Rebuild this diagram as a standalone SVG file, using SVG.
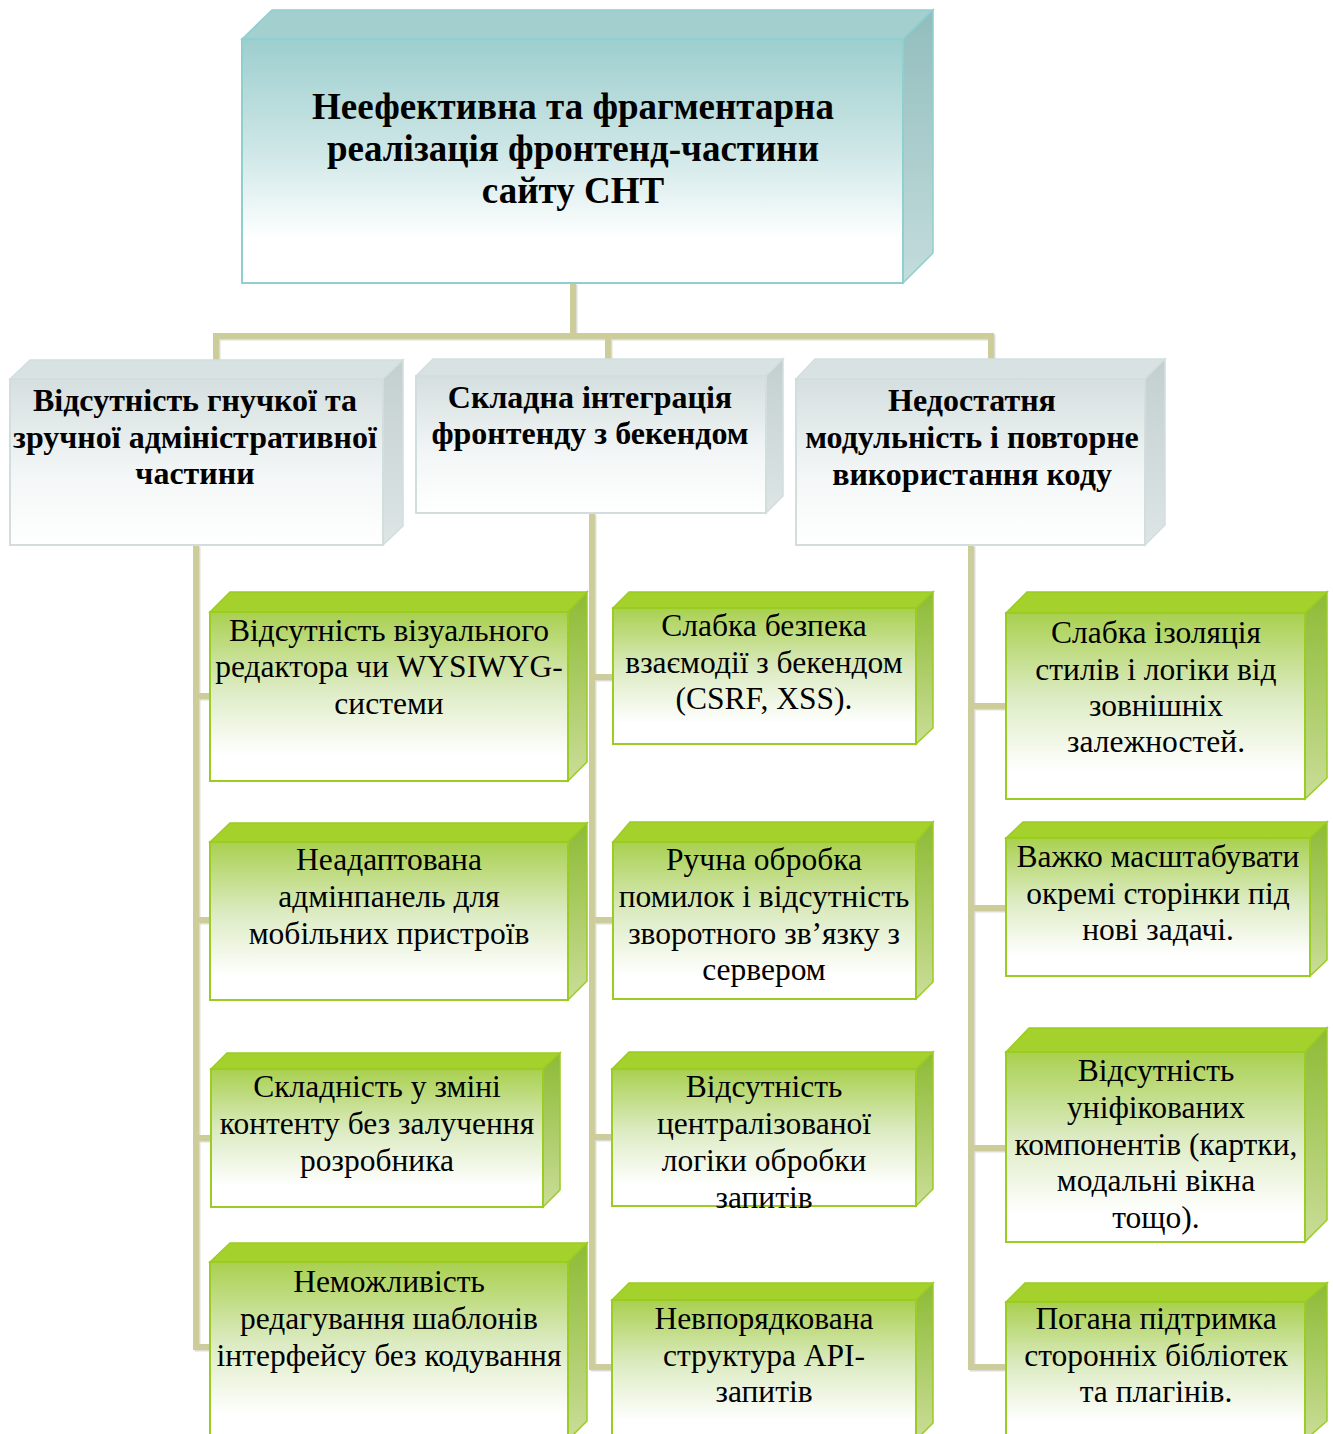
<svg xmlns="http://www.w3.org/2000/svg" width="1333" height="1434" viewBox="0 0 1333 1434">
  <defs>
    <linearGradient id="tealFront" x1="0" y1="0" x2="0" y2="1">
      <stop offset="0" stop-color="#9dcece"/>
      <stop offset="0.45" stop-color="#cde6e6"/>
      <stop offset="0.82" stop-color="#ffffff"/>
    </linearGradient>
    <linearGradient id="tealSide" x1="0" y1="0" x2="0" y2="1">
      <stop offset="0" stop-color="#92bdbd"/>
      <stop offset="1" stop-color="#c4dcdc"/>
    </linearGradient>
    <linearGradient id="grayFront" x1="0" y1="0" x2="0" y2="1">
      <stop offset="0" stop-color="#d5dfdf"/>
      <stop offset="0.6" stop-color="#f4f7f7"/>
      <stop offset="1" stop-color="#ffffff"/>
    </linearGradient>
    <linearGradient id="graySide" x1="0" y1="0" x2="0" y2="1">
      <stop offset="0" stop-color="#c3cfcf"/>
      <stop offset="1" stop-color="#dde5e5"/>
    </linearGradient>
    <linearGradient id="greenFront" x1="0" y1="0" x2="0" y2="1">
      <stop offset="0" stop-color="#a9d04f"/>
      <stop offset="0.45" stop-color="#dcebc2"/>
      <stop offset="0.85" stop-color="#ffffff"/>
    </linearGradient>
    <linearGradient id="greenSide" x1="0" y1="0" x2="0" y2="1">
      <stop offset="0" stop-color="#8dbb35"/>
      <stop offset="1" stop-color="#cadd98"/>
    </linearGradient>
  </defs>
  <style>
    .link { fill: none; stroke: #cdcd9b; stroke-width: 6; stroke-linejoin: miter; }
    .link-shadow { fill: none; stroke: #9a9a86; stroke-width: 6; opacity: 0.35; }
    .teal .front { fill: url(#tealFront); stroke: #8fcfcf; stroke-width: 2; }
    .teal .top { fill: #a3cfcf; stroke: #8fcfcf; stroke-width: 1.5; }
    .teal .side { fill: url(#tealSide); stroke: #8fcfcf; stroke-width: 1.5; }
    .gray .front { fill: url(#grayFront); stroke: #d2dede; stroke-width: 2; }
    .gray .top { fill: #d8e2e2; stroke: #d2dede; stroke-width: 1.5; }
    .gray .side { fill: url(#graySide); stroke: #d2dede; stroke-width: 1.5; }
    .green .front { fill: url(#greenFront); stroke: #9bcc22; stroke-width: 2; }
    .green .top { fill: #a5d12c; stroke: #9bcc22; stroke-width: 1.5; }
    .green .side { fill: url(#greenSide); stroke: #9bcc22; stroke-width: 1.5; }
    text { font-family: "Liberation Serif", "Times New Roman", serif; fill: #000; text-anchor: middle; }
    .t0 { font-size: 37px; font-weight: bold; }
    .t1 { font-size: 32px; font-weight: bold; }
    .t2 { font-size: 31.5px; }
  </style>

  <!-- connectors -->
  <g id="connectors">
    <g transform="translate(1.5,1.5)">
      <path class="link-shadow" d="M573 283 V336 M216 360 V336 H991 V360 M608 336 V360"/>
      <path class="link-shadow" d="M196 545 V1347 H210 M196 696 H210 M196 920 H210 M196 1138 H210"/>
      <path class="link-shadow" d="M592 513 V1367 H612 M592 677 H612 M592 920 H612 M592 1137 H612"/>
      <path class="link-shadow" d="M971 545 V1367 H1006 M971 706 H1006 M971 908 H1006 M971 1148 H1006"/>
    </g>
    <path class="link" d="M573 283 V336 M216 360 V336 H991 V360 M608 336 V360"/>
    <path class="link" d="M196 545 V1347 H210 M196 696 H210 M196 920 H210 M196 1138 H210"/>
    <path class="link" d="M592 513 V1367 H612 M592 677 H612 M592 920 H612 M592 1137 H612"/>
    <path class="link" d="M971 545 V1367 H1006 M971 706 H1006 M971 908 H1006 M971 1148 H1006"/>
  </g>

  <!-- root problem -->
  <g id="root" class="teal">
    <polygon class="top" points="242,39 272,10 933,10 903,39"/>
    <polygon class="side" points="903,39 933,10 933,253 903,283"/>
    <rect class="front" x="242" y="39" width="661" height="244"/>
    <text class="t0" x="573" y="119">Неефективна та фрагментарна</text>
    <text class="t0" x="573" y="161">реалізація фронтенд-частини</text>
    <text class="t0" x="573" y="203">сайту СНТ</text>
  </g>

  <!-- second level -->
  <g id="admin" class="gray">
    <polygon class="top" points="10,379 30,360 403,360 383,379"/>
    <polygon class="side" points="383,379 403,360 403,526 383,545"/>
    <rect class="front" x="10" y="379" width="373" height="166"/>
    <text class="t1" x="195" y="411">Відсутність гнучкої та</text>
    <text class="t1" x="195" y="448">зручної адміністративної</text>
    <text class="t1" x="195" y="484">частини</text>
  </g>
  <g id="integration" class="gray">
    <polygon class="top" points="416,376 433,359 783,359 766,376"/>
    <polygon class="side" points="766,376 783,359 783,496 766,513"/>
    <rect class="front" x="416" y="376" width="350" height="137"/>
    <text class="t1" x="590" y="408">Складна інтеграція</text>
    <text class="t1" x="590" y="444">фронтенду з бекендом</text>
  </g>
  <g id="modularity" class="gray">
    <polygon class="top" points="796,379 815,359 1165,359 1145,379"/>
    <polygon class="side" points="1145,379 1165,359 1165,525 1145,545"/>
    <rect class="front" x="796" y="379" width="349" height="166"/>
    <text class="t1" x="972" y="411">Недостатня</text>
    <text class="t1" x="972" y="448">модульність і повторне</text>
    <text class="t1" x="972" y="485">використання коду</text>
  </g>

  <!-- admin branch -->
  <g id="wysiwyg" class="green">
    <polygon class="top" points="210,612 230,592 587,592 568,612"/>
    <polygon class="side" points="568,612 587,592 587,762 568,781"/>
    <rect class="front" x="210" y="612" width="358" height="169"/>
    <text class="t2" x="389" y="641">Відсутність візуального</text>
    <text class="t2" x="389" y="677">редактора чи WYSIWYG-</text>
    <text class="t2" x="389" y="714">системи</text>
  </g>
  <g id="mobile" class="green">
    <polygon class="top" points="210,842 230,823 587,823 568,842"/>
    <polygon class="side" points="568,842 587,823 587,981 568,1000"/>
    <rect class="front" x="210" y="842" width="358" height="158"/>
    <text class="t2" x="389" y="870">Неадаптована</text>
    <text class="t2" x="389" y="907">адмінпанель для</text>
    <text class="t2" x="389" y="944">мобільних пристроїв</text>
  </g>
  <g id="content" class="green">
    <polygon class="top" points="211,1069 227,1053 560,1053 543,1069"/>
    <polygon class="side" points="543,1069 560,1053 560,1190 543,1207"/>
    <rect class="front" x="211" y="1069" width="332" height="138"/>
    <text class="t2" x="377" y="1097">Складність у зміні</text>
    <text class="t2" x="377" y="1134">контенту без залучення</text>
    <text class="t2" x="377" y="1171">розробника</text>
  </g>
  <g id="templates" class="green">
    <polygon class="top" points="210,1262 230,1243 587,1243 568,1262"/>
    <polygon class="side" points="568,1262 587,1243 587,1421 568,1440"/>
    <rect class="front" x="210" y="1262" width="358" height="180"/>
    <text class="t2" x="389" y="1292">Неможливість</text>
    <text class="t2" x="389" y="1329">редагування шаблонів</text>
    <text class="t2" x="389" y="1366">інтерфейсу без кодування</text>
  </g>

  <!-- integration branch -->
  <g id="security" class="green">
    <polygon class="top" points="613,608 629,592 933,592 916,608"/>
    <polygon class="side" points="916,608 933,592 933,728 916,744"/>
    <rect class="front" x="613" y="608" width="303" height="136"/>
    <text class="t2" x="764" y="636">Слабка безпека</text>
    <text class="t2" x="764" y="673">взаємодії з бекендом</text>
    <text class="t2" x="764" y="709">(CSRF, XSS).</text>
  </g>
  <g id="errors" class="green">
    <polygon class="top" points="613,842 630,822 933,822 916,842"/>
    <polygon class="side" points="916,842 933,822 933,982 916,999"/>
    <rect class="front" x="613" y="842" width="303" height="157"/>
    <text class="t2" x="764" y="870">Ручна обробка</text>
    <text class="t2" x="764" y="907">помилок і відсутність</text>
    <text class="t2" x="764" y="944">зворотного зв’язку з</text>
    <text class="t2" x="764" y="980">сервером</text>
  </g>
  <g id="requests" class="green">
    <polygon class="top" points="612,1069 629,1052 933,1052 916,1069"/>
    <polygon class="side" points="916,1069 933,1052 933,1189 916,1206"/>
    <rect class="front" x="612" y="1069" width="304" height="137"/>
    <text class="t2" x="764" y="1097">Відсутність</text>
    <text class="t2" x="764" y="1134">централізованої</text>
    <text class="t2" x="764" y="1171">логіки обробки</text>
    <text class="t2" x="764" y="1208">запитів</text>
  </g>
  <g id="api" class="green">
    <polygon class="top" points="612,1300 629,1283 933,1283 916,1300"/>
    <polygon class="side" points="916,1300 933,1283 933,1423 916,1440"/>
    <rect class="front" x="612" y="1300" width="304" height="142"/>
    <text class="t2" x="764" y="1329">Невпорядкована</text>
    <text class="t2" x="764" y="1366">структура API-</text>
    <text class="t2" x="764" y="1402">запитів</text>
  </g>

  <!-- modularity branch -->
  <g id="isolation" class="green">
    <polygon class="top" points="1006,613 1027,592 1327,592 1305,613"/>
    <polygon class="side" points="1305,613 1327,592 1327,778 1305,799"/>
    <rect class="front" x="1006" y="613" width="299" height="186"/>
    <text class="t2" x="1156" y="643">Слабка ізоляція</text>
    <text class="t2" x="1156" y="680">стилів і логіки від</text>
    <text class="t2" x="1156" y="716">зовнішніх</text>
    <text class="t2" x="1156" y="752">залежностей.</text>
  </g>
  <g id="scaling" class="green">
    <polygon class="top" points="1006,838 1023,822 1327,822 1310,838"/>
    <polygon class="side" points="1310,838 1327,822 1327,960 1310,976"/>
    <rect class="front" x="1006" y="838" width="304" height="138"/>
    <text class="t2" x="1158" y="867">Важко масштабувати</text>
    <text class="t2" x="1158" y="904">окремі сторінки під</text>
    <text class="t2" x="1158" y="940">нові задачі.</text>
  </g>
  <g id="components" class="green">
    <polygon class="top" points="1006,1052 1029,1028 1327,1028 1305,1052"/>
    <polygon class="side" points="1305,1052 1327,1028 1327,1220 1305,1242"/>
    <rect class="front" x="1006" y="1052" width="299" height="190"/>
    <text class="t2" x="1156" y="1081">Відсутність</text>
    <text class="t2" x="1156" y="1118">уніфікованих</text>
    <text class="t2" x="1156" y="1155">компонентів (картки,</text>
    <text class="t2" x="1156" y="1191">модальні вікна</text>
    <text class="t2" x="1156" y="1228">тощо).</text>
  </g>
  <g id="plugins" class="green">
    <polygon class="top" points="1006,1302 1025,1283 1327,1283 1305,1302"/>
    <polygon class="side" points="1305,1302 1327,1283 1327,1421 1305,1440"/>
    <rect class="front" x="1006" y="1302" width="299" height="140"/>
    <text class="t2" x="1156" y="1329">Погана підтримка</text>
    <text class="t2" x="1156" y="1366">сторонніх бібліотек</text>
    <text class="t2" x="1156" y="1402">та плагінів.</text>
  </g>
</svg>
